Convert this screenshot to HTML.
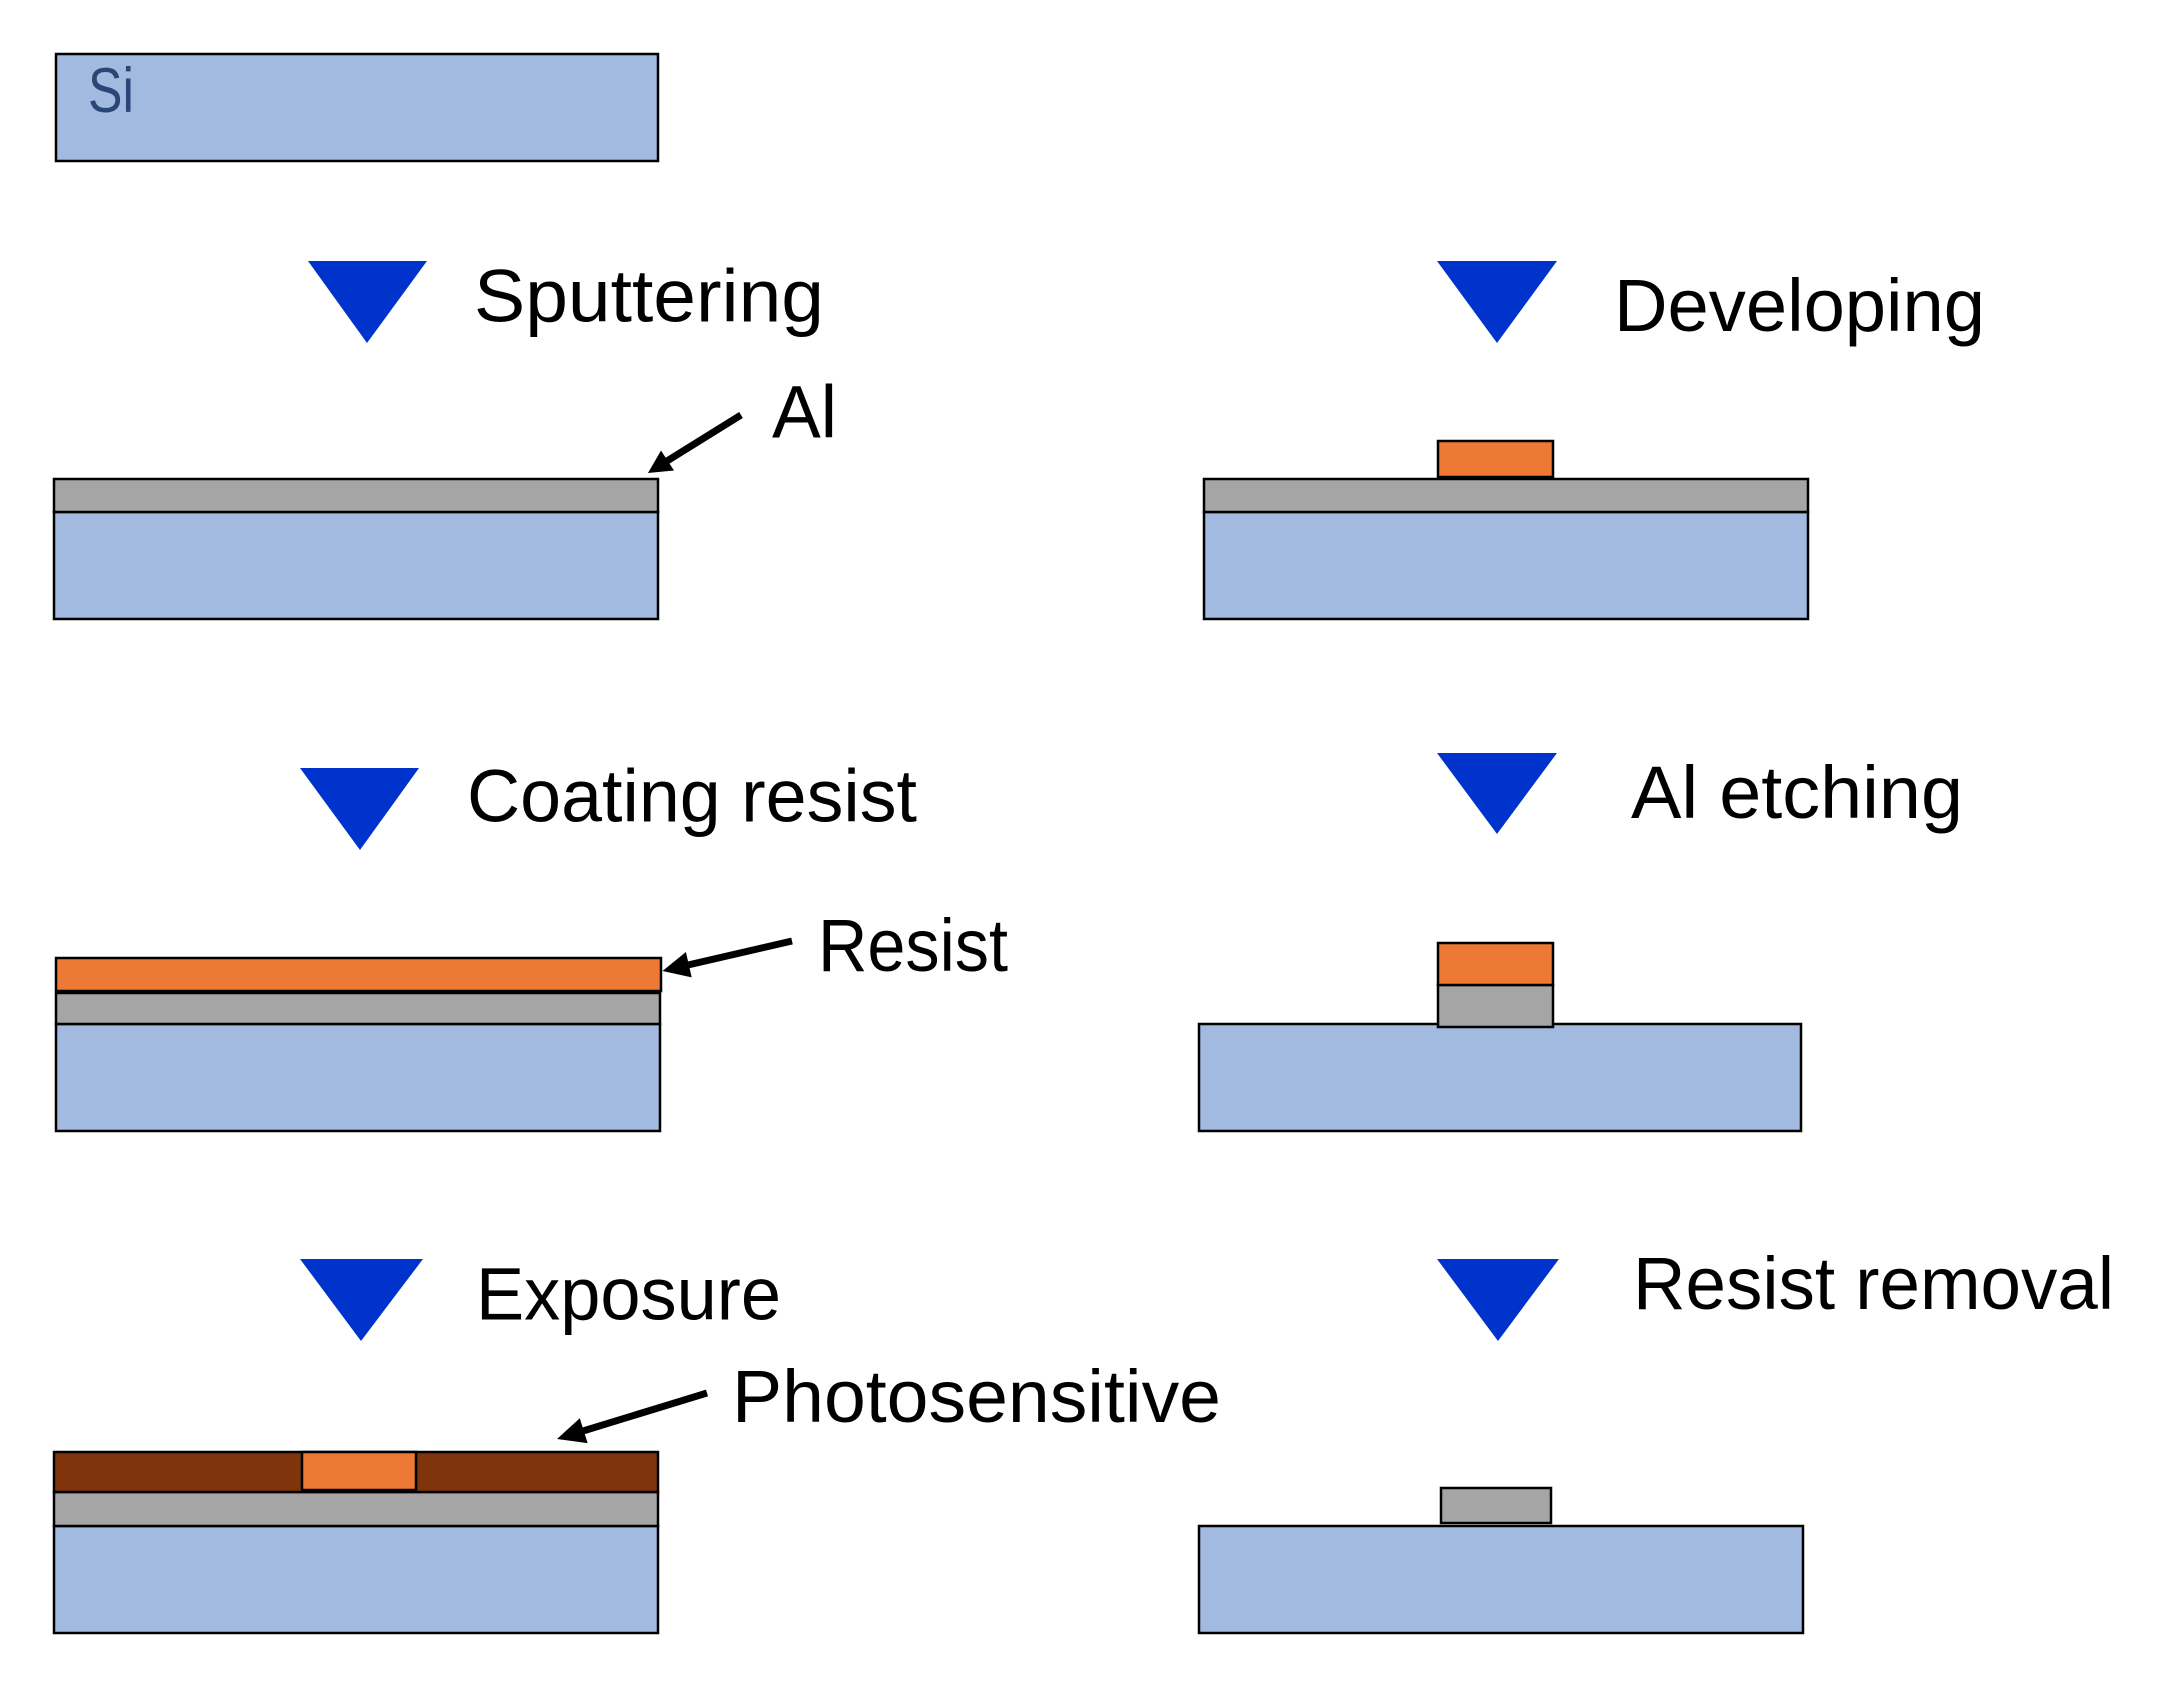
<!DOCTYPE html>
<html><head><meta charset="utf-8"><title>Process</title>
<style>html,body{margin:0;padding:0;background:#fff}svg{display:block}
text{font-family:"Liberation Sans",sans-serif;font-size:74px;fill:#000}
.b{fill:#A2B9E0}.g{fill:#A5A5A5}.o{fill:#EE7935}.d{fill:#7F340B}
rect{stroke:#000;stroke-width:2.5}polygon{fill:#0033CC}
line{stroke:#000;stroke-width:7}</style></head>
<body>
<svg width="2180" height="1700" viewBox="0 0 2180 1700" xmlns="http://www.w3.org/2000/svg">
<rect x="0" y="0" width="2180" height="1700" style="fill:#fff;stroke:none"/>

<!-- Si -->
<rect class="b" x="56" y="54" width="602" height="107"/>
<text x="88" y="112" textLength="46" lengthAdjust="spacingAndGlyphs" style="font-size:63px;fill:#2A4676">Si</text>

<!-- Sputtering -->
<polygon points="308,261 427,261 367,343"/>
<text x="474" y="321.5" textLength="350" lengthAdjust="spacingAndGlyphs">Sputtering</text>
<text x="772" y="437.5" textLength="65" lengthAdjust="spacingAndGlyphs">Al</text>
<line x1="741" y1="415" x2="667" y2="461"/>
<polygon style="fill:#000" points="648,473 661,450.5 674,470.5"/>
<rect class="b" x="54" y="512" width="604" height="107"/>
<rect class="g" x="54" y="479" width="604" height="33"/>

<!-- Coating resist -->
<polygon points="300,768 419,768 360,850"/>
<text x="467" y="821.5" textLength="450" lengthAdjust="spacingAndGlyphs">Coating resist</text>
<text x="818" y="971" textLength="190" lengthAdjust="spacingAndGlyphs">Resist</text>
<line x1="792" y1="941" x2="688" y2="965"/>
<polygon style="fill:#000" points="662.5,971 691.7,977.4 685.9,952"/>
<rect class="b" x="56" y="1024" width="604" height="107"/>
<rect class="g" x="56" y="993" width="604" height="31"/>
<rect class="o" x="56" y="958" width="605" height="33"/>

<!-- Exposure -->
<polygon points="300,1259 423,1259 361,1341"/>
<text x="476" y="1319.5" textLength="305" lengthAdjust="spacingAndGlyphs">Exposure</text>
<text x="732" y="1422" textLength="489" lengthAdjust="spacingAndGlyphs">Photosensitive</text>
<line x1="707" y1="1393" x2="583" y2="1431"/>
<polygon style="fill:#000" points="557,1439 587.6,1443.1 579.8,1418.3"/>
<rect class="b" x="54" y="1526" width="604" height="107"/>
<rect class="g" x="54" y="1492" width="604" height="34"/>
<rect class="d" x="54" y="1452" width="604" height="40"/>
<rect class="o" x="302" y="1452" width="114" height="38"/>

<!-- Developing -->
<polygon points="1437,261 1557,261 1497,343"/>
<text x="1614" y="331" textLength="371" lengthAdjust="spacingAndGlyphs">Developing</text>
<rect class="b" x="1204" y="512" width="604" height="107"/>
<rect class="g" x="1204" y="479" width="604" height="33"/>
<rect class="o" x="1438" y="441" width="115" height="36"/>

<!-- Al etching -->
<polygon points="1437,753 1557,753 1497,834"/>
<text x="1631" y="818" textLength="332" lengthAdjust="spacingAndGlyphs">Al etching</text>
<rect class="b" x="1199" y="1024" width="602" height="107"/>
<rect class="g" x="1438" y="985" width="115" height="42"/>
<rect class="o" x="1438" y="943" width="115" height="42"/>

<!-- Resist removal -->
<polygon points="1437,1259 1559,1259 1498,1341"/>
<text x="1633" y="1309" textLength="481" lengthAdjust="spacingAndGlyphs">Resist removal</text>
<rect class="g" x="1441" y="1488" width="110" height="35"/>
<rect class="b" x="1199" y="1526" width="604" height="107"/>
</svg>
</body></html>
